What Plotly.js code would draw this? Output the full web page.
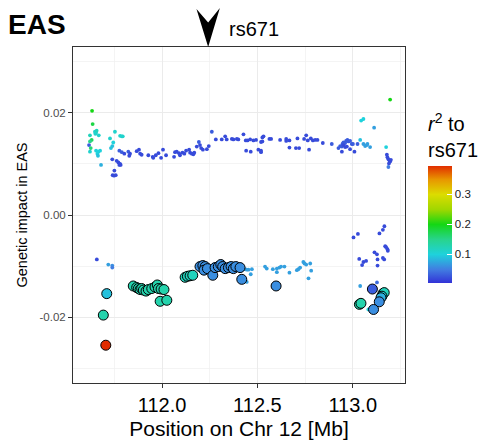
<!DOCTYPE html>
<html><head><meta charset="utf-8">
<script src="https://cdn.plot.ly/plotly-3.0.1.min.js"></script>
<style>html,body{margin:0;padding:0;background:#fff}#chart{width:481px;height:446px}</style>
</head><body><div id="chart"></div>
<script>
// Small dots: position (Mb), genetic impact, r2
const smallPos = [111.633,111.636,111.648,111.654,111.657,111.650,111.668,111.622,111.631,111.622,111.617,111.626,111.622,111.654,111.666,111.675,111.661,111.664,111.680,111.727,111.753,111.744,111.739,111.732,111.780,111.789,111.794,
111.739,111.762,111.771,111.780,111.783,111.776,111.750,111.741,111.748,111.757,
111.776,111.789,111.802,111.823,111.832,111.828,111.867,111.879,111.885,111.893,111.928,111.951,111.954,111.967,111.981,111.995,112.005,112.021,112.063,112.068,112.077,112.089,112.094,112.107,112.117,112.126,112.142,112.147,112.156,112.164,112.169,112.182,112.193,112.199,112.205,112.214,112.235,112.245,112.261,112.282,112.313,112.331,112.339,112.366,112.374,112.392,112.400,
112.427,112.439,112.448,112.462,112.479,112.493,112.441,112.465,112.505,112.519,112.519,112.519,112.526,112.526,112.532,112.563,112.572,112.619,112.651,112.651,112.668,112.668,112.702,112.719,112.710,112.745,112.756,112.764,112.780,112.791,112.803,112.815,112.771,112.843,112.890,
112.925,112.934,112.943,112.946,112.951,112.960,112.965,112.972,112.978,112.986,112.995,112.951,112.960,112.969,112.943,112.986,113.009,113.001,113.025,
113.039,113.044,113.056,113.056,113.065,113.074,113.077,113.091,113.112,113.175,
113.179,113.182,113.187,113.193,113.196,113.200,113.190,113.187,113.196,
111.658,111.718,111.739,111.739,
112.444,112.444,112.435,112.453,112.471,112.465,112.540,112.549,112.581,112.602,112.615,112.624,112.642,112.602,112.668,112.707,112.715,112.724,112.741,112.747,112.756,112.777,112.782,112.768,
113.004,113.027,113.140,113.158,113.166,113.170,113.175,113.182,113.184,113.114,113.127,113.034,113.056,113.070,113.049,113.130,113.158,113.165,113.130,
113.039,113.127,113.082];
const smallImpact = [0.0204,0.0178,0.0163,0.0161,0.0165,0.0159,0.0156,0.0156,0.0147,0.0144,0.0137,0.0131,0.0124,0.0126,0.0124,0.0126,0.0120,0.0116,0.0098,0.0150,0.0163,0.0142,0.0135,0.0131,0.0155,0.0154,0.0154,
0.0109,0.0106,0.0103,0.0100,0.0098,0.0098,0.0087,0.0078,0.0077,0.0078,
0.0126,0.0123,0.0120,0.0124,0.0120,0.0116,0.0125,0.0128,0.0120,0.0118,0.0117,0.0114,0.0112,0.0117,0.0121,0.0112,0.0128,0.0117,0.0114,0.0123,0.0124,0.0121,0.0117,0.0122,0.0120,0.0126,0.0128,0.0122,0.0120,0.0119,0.0122,0.0134,0.0143,0.0137,0.0131,0.0128,0.0129,0.0135,0.0163,0.0148,0.0148,0.0154,0.0148,0.0149,0.0148,0.0149,0.0148,
0.0158,0.0146,0.0146,0.0148,0.0146,0.0147,0.0126,0.0124,0.0128,0.0126,0.0123,0.0143,0.0144,0.0152,0.0154,0.0149,0.0149,0.0147,0.0149,0.0145,0.0146,0.0132,0.0131,0.0131,0.0150,0.0149,0.0156,0.0146,0.0150,0.0146,0.0147,0.0147,0.0128,0.0141,0.0139,
0.0131,0.0135,0.0134,0.0139,0.0142,0.0141,0.0145,0.0147,0.0144,0.0145,0.0139,0.0137,0.0133,0.0134,0.0124,0.0129,0.0124,0.0139,0.0139,
0.0147,0.0185,0.0188,0.0139,0.0135,0.0137,0.0139,0.0133,0.0171,0.0133,
0.0118,0.0113,0.0109,0.0106,0.0105,0.0108,0.0101,0.0094,0.0226,
-0.0087,-0.0097,-0.0099,-0.0103,
-0.0107,-0.0131,-0.0106,-0.0107,-0.0106,-0.0116,-0.0101,-0.0105,-0.0106,-0.0105,-0.0103,-0.0101,-0.0101,-0.0112,-0.0113,-0.0108,-0.0106,-0.0103,-0.0092,-0.0095,-0.0097,-0.0095,-0.0109,-0.0124,
-0.0044,-0.0037,-0.0036,-0.0029,-0.0022,-0.0061,-0.0063,-0.0067,-0.0070,-0.0073,-0.0077,-0.0086,-0.0092,-0.0090,-0.0098,-0.0087,-0.0084,-0.0087,-0.0099,
-0.0139,-0.0132,-0.0185];
const smallR2 = [0.20,0.18,0.11,0.11,0.12,0.11,0.11,0.12,0.17,0.15,0.03,0.16,0.11,0.10,0.10,0.10,0.10,0.09,0.08,0.11,0.11,0.10,0.09,0.09,0.11,0.11,0.11,
0.02,0.02,0.02,0.02,0.02,0.02,0.02,0.02,0.02,0.02,
0.03,0.03,0.02,0.03,0.02,0.02,0.02,0.02,0.02,0.02,0.02,0.02,0.02,0.02,0.02,0.02,0.02,0.02,0.02,0.02,0.02,0.02,0.02,0.02,0.02,0.02,0.02,0.02,0.02,0.02,0.02,0.02,0.03,0.02,0.02,0.02,0.02,0.02,0.03,0.02,0.02,0.02,0.02,0.02,0.02,0.02,0.02,
0.02,0.02,0.02,0.02,0.02,0.02,0.02,0.02,0.02,0.02,0.02,0.02,0.02,0.02,0.02,0.02,0.02,0.02,0.02,0.02,0.02,0.02,0.02,0.02,0.02,0.02,0.02,0.02,0.02,0.02,0.02,0.02,0.02,0.02,0.03,
0.03,0.03,0.03,0.03,0.03,0.03,0.03,0.03,0.03,0.03,0.03,0.02,0.02,0.02,0.02,0.02,0.02,0.03,0.03,
0.09,0.10,0.10,0.07,0.07,0.07,0.07,0.07,0.07,0.10,
0.02,0.02,0.02,0.02,0.02,0.02,0.02,0.05,0.20,
0.02,0.07,0.06,0.05,
0.07,0.07,0.07,0.07,0.07,0.07,0.07,0.07,0.07,0.07,0.07,0.07,0.07,0.07,0.07,0.07,0.07,0.07,0.07,0.07,0.07,0.07,0.07,0.07,
0.02,0.02,0.02,0.02,0.02,0.02,0.02,0.02,0.02,0.02,0.02,0.02,0.02,0.02,0.02,0.02,0.02,0.02,0.02,
0.07,0.04,0.10];

// Large outlined circles
const bigPos = [111.710,111.692,111.705,
111.849,111.867,111.876,111.885,111.893,111.902,111.916,111.928,111.946,111.963,111.975,111.981,111.995,112.010,111.990,112.025,112.121,112.133,112.147,112.161,
112.199,112.214,112.226,112.220,112.238,112.266,112.278,112.295,112.308,112.318,112.331,112.348,112.362,112.374,112.387,112.409,112.418,112.598,
113.103,113.158,113.165,113.153,113.148,113.035,113.043,113.139,113.109];
const bigImpact = [-0.0154,-0.0196,-0.0255,
-0.0139,-0.0142,-0.0144,-0.0146,-0.0144,-0.0147,-0.0149,-0.0146,-0.0144,-0.0141,-0.0137,-0.0144,-0.0145,-0.0146,-0.0169,-0.0167,-0.0122,-0.0120,-0.0119,-0.0118,
-0.0101,-0.0099,-0.0101,-0.0108,-0.0105,-0.0118,-0.0103,-0.0101,-0.0097,-0.0101,-0.0105,-0.0103,-0.0101,-0.0105,-0.0101,-0.0103,-0.0126,-0.0139,
-0.0145,-0.0154,-0.0152,-0.0159,-0.0162,-0.0175,-0.0173,-0.0170,-0.0185];
const bigR2 = [0.09,0.13,0.395,
0.13,0.13,0.13,0.13,0.13,0.13,0.13,0.13,0.13,0.13,0.13,0.13,0.13,0.13,0.13,0.13,0.12,0.12,0.12,0.12,
0.06,0.06,0.06,0.06,0.06,0.06,0.06,0.06,0.06,0.06,0.06,0.06,0.06,0.06,0.06,0.06,0.06,0.06,
0.03,0.12,0.12,0.10,0.08,0.13,0.13,0.06,0.06];

const xTicks = [112.0, 112.5, 113.0];
const xTickText = ['112.0', '112.5', '113.0'];
const yTicks = [-0.02, 0.0, 0.02];
const yTickText = ['-0.02', '0.00', '0.02'];
const r2Ticks = [0.1, 0.2, 0.3];
const leadSnp = 'rs671';
const leadPos = 112.2418;

const xRange = [111.533, 113.274];
const yRange = [-0.0329, 0.0329];
const cmin = 0.005, cmax = 0.395;
const stops = [[0.005,'rgb(50,50,215)'],[0.05,'rgb(65,125,225)'],[0.1,'rgb(30,210,220)'],[0.15,'rgb(40,212,140)'],[0.2,'rgb(20,215,20)'],[0.25,'rgb(160,215,0)'],[0.3,'rgb(220,220,0)'],[0.35,'rgb(232,150,0)'],[0.395,'rgb(225,45,0)']];
const colorscale = stops.map(s => [(s[0]-cmin)/(cmax-cmin), s[1]]);

const font = 'Liberation Sans, Arial, Helvetica, sans-serif';

const traces = [
  {type:'scatter', mode:'markers', x:smallPos, y:smallImpact,
   marker:{size:3.8, color:smallR2, coloraxis:'coloraxis', line:{width:0}}, hoverinfo:'skip'},
  {type:'scatter', mode:'markers', x:bigPos, y:bigImpact,
   marker:{size:10, color:bigR2, coloraxis:'coloraxis', line:{width:1, color:'#000'}}, hoverinfo:'skip'}
];

const ax = (xRange[1]-xRange[0]);
const px = (leadPos - xRange[0]) / ax;
const dxp = 11.7 / 332;

const layout = {
  width:481, height:446,
  margin:{l:73, r:76, t:47, b:63, autoexpand:false},
  paper_bgcolor:'#fff', plot_bgcolor:'#fff',
  font:{family:font, color:'#000'},
  showlegend:false,
  title:{text:'<b>EAS</b>', x:8/481, xref:'container', xanchor:'left', y:1-24/446, yref:'container', yanchor:'middle', font:{size:28, family:font, color:'#000'}},
  xaxis:{range:xRange, tickvals:xTicks, ticktext:xTickText, tickfont:{size:20, color:'#000'},
    showgrid:true, gridcolor:'#ebebeb', gridwidth:1, zeroline:false,
    minor:{tickvals:[111.75,112.25,112.75,113.25], showgrid:true, gridcolor:'#f0f0f0', gridwidth:0.7, ticks:''},
    showline:true, mirror:true, linecolor:'#333', linewidth:1, ticks:'outside', ticklen:4, tickcolor:'#333',
    title:{text:'Position on Chr 12 [Mb]', font:{size:21, color:'#000'}, standoff:6}},
  yaxis:{range:yRange, tickvals:yTicks, ticktext:yTickText, tickfont:{size:11.5, color:'#4d4d4d'},
    showgrid:true, gridcolor:'#ebebeb', gridwidth:1, zeroline:false,
    minor:{tickvals:[-0.03,-0.01,0.01,0.03], showgrid:true, gridcolor:'#f0f0f0', gridwidth:0.7, ticks:''},
    showline:true, mirror:true, linecolor:'#333', linewidth:1, ticks:'outside', ticklen:4, tickcolor:'#333',
    title:{text:'Genetic impact in EAS', font:{size:14.5, color:'#000'}, standoff:8}},
  coloraxis:{colorscale:colorscale, cmin:cmin, cmax:cmax,
    colorbar:{thickness:24, thicknessmode:'pixels', len:117, lenmode:'pixels',
      x:428/481, xref:'container', xanchor:'left', xpad:0,
      y:0.158, yref:'container', yanchor:'bottom', ypad:0,
      outlinewidth:0, tickvals:r2Ticks, ticks:'inside', ticklen:5, tickcolor:'#fff', tickwidth:1.5,
      tickfont:{size:11.5, color:'#1a1a1a'},
      title:{text:''}}},
  shapes:[{type:'path', xref:'paper', yref:'paper',
    path:'M '+px+',1.0 L '+(px-dxp)+',1.113 L '+px+',1.073 L '+(px+dxp)+',1.116 Z',
    fillcolor:'#000', line:{width:0}}],
  annotations:[
    {text:leadSnp, xref:'x', x:leadPos, xshift:19, xanchor:'left', yref:'paper', y:(383-29)/336, yanchor:'middle', showarrow:false, font:{size:20, color:'#000'}},
    {text:'<i>r</i><sup>2</sup> to<br>'+leadSnp, xref:'paper', x:(426-73)/332, xanchor:'left', align:'left', yref:'paper', y:(383-163)/336, yanchor:'bottom', showarrow:false, font:{size:20, color:'#000'}}
  ]
};

Plotly.newPlot('chart', traces, layout, {staticPlot:true});
</script>
</body></html>
